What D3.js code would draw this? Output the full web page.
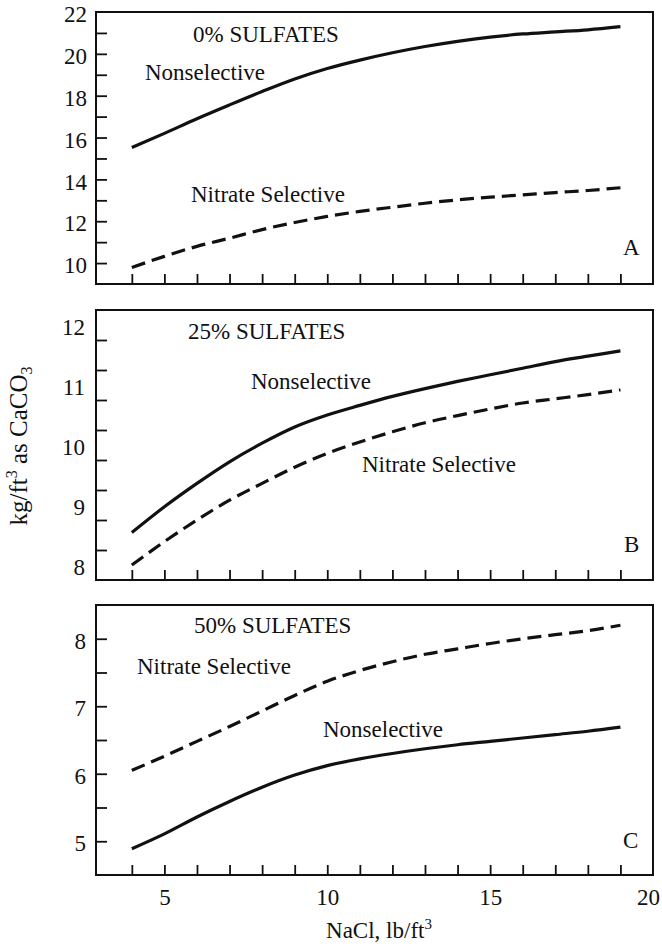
<!DOCTYPE html>
<html>
<head>
<meta charset="utf-8">
<script src="https://cdn.jsdelivr.net/npm/d3@7"></script>
<style>
  html, body { margin: 0; padding: 0; background: #fff; }
  svg text { font-family: "Liberation Serif", "DejaVu Serif", serif; fill: #111; }
</style>
</head>
<body>
<svg id="chart" width="662" height="946"></svg>
<script>
// ---- data ----
const naclValues = [4, 5, 6, 7, 8, 9, 10, 11, 12, 13, 14, 15, 16, 17, 18, 19];

const nonselA = [15.52, 16.2, 16.9, 17.56, 18.2, 18.8, 19.3, 19.7, 20.05, 20.35, 20.6, 20.8, 20.95, 21.05, 21.15, 21.3];
const nitrateA = [9.79, 10.32, 10.8, 11.19, 11.6, 11.94, 12.23, 12.47, 12.67, 12.86, 13.02, 13.15, 13.26, 13.37, 13.47, 13.6];

const nonselB = [8.54, 8.97, 9.36, 9.72, 10.03, 10.3, 10.5, 10.66, 10.81, 10.94, 11.06, 11.17, 11.28, 11.39, 11.48, 11.57];
const nitrateB = [8.0, 8.39, 8.75, 9.08, 9.36, 9.63, 9.86, 10.05, 10.22, 10.37, 10.49, 10.6, 10.7, 10.77, 10.84, 10.92];

const nonselC = [4.89, 5.11, 5.36, 5.59, 5.8, 5.98, 6.12, 6.22, 6.3, 6.37, 6.43, 6.48, 6.53, 6.58, 6.63, 6.69];
const nitrateC = [6.05, 6.26, 6.48, 6.7, 6.93, 7.16, 7.37, 7.53, 7.66, 7.77, 7.85, 7.93, 8.0, 8.06, 8.12, 8.2];

const xTickLabels = [5, 10, 15, 20];
const yLabelsA = [10, 12, 14, 16, 18, 20, 22];
const yTicksA = [10, 11, 12, 13, 14, 15, 16, 17, 18, 19, 20, 21];
const yLabelsB = [8, 9, 10, 11, 12];
const yTicksB = [8.25, 8.75, 9.25, 9.75, 10.25, 10.75, 11.25, 11.75];
const yLabelsC = [5, 6, 7, 8];
const yTicksC = [5, 5.5, 6, 6.5, 7, 7.5, 8];

const panelTitles = ["0% SULFATES", "25% SULFATES", "50% SULFATES"];
const panelLetters = ["A", "B", "C"];
const seriesNames = ["Nonselective", "Nitrate Selective"];

// ---- layout ----
const svg = d3.select("#chart");
const left = 96, right = 653;
const FS = 23;
const x = d3.scaleLinear().domain([2.9, 20]).range([left, right]);

const panels = [
  { top: 12, bottom: 284, domain: [9, 22], non: nonselA, nit: nitrateA,
    labels: yLabelsA, ticks: yTicksA, labelRight: 87, title: panelTitles[0], letter: panelLetters[0],
    titlePos: [193, 42], nonPos: [145, 80], nitPos: [191, 202], letterPos: [623, 255] },
  { top: 310, bottom: 580, domain: [7.75, 12.25], non: nonselB, nit: nitrateB,
    labels: yLabelsB, ticks: yTicksB, labelRight: 85, title: panelTitles[1], letter: panelLetters[1],
    titlePos: [188, 339], nonPos: [251, 389], nitPos: [362, 472], letterPos: [624, 552] },
  { top: 605, bottom: 875, domain: [4.5, 8.5], non: nonselC, nit: nitrateC,
    labels: yLabelsC, ticks: yTicksC, labelRight: 86, title: panelTitles[2], letter: panelLetters[2],
    titlePos: [194, 633], nonPos: [323, 737], nitPos: [137, 674], letterPos: [623, 848] }
];

panels.forEach((p) => {
  const y = d3.scaleLinear().domain(p.domain).range([p.bottom, p.top]);
  const g = svg.append("g");

  // frame
  g.append("rect")
    .attr("x", left).attr("y", p.top)
    .attr("width", right - left).attr("height", p.bottom - p.top)
    .attr("fill", "none").attr("stroke", "#111").attr("stroke-width", 2);

  // bottom inward ticks
  const xAxis = d3.axisTop(x).tickValues(naclValues).tickSize(10).tickFormat("");
  g.append("g").attr("transform", `translate(0,${p.bottom})`).call(xAxis)
    .call(s => s.select(".domain").remove())
    .selectAll("line").attr("stroke", "#111").attr("stroke-width", 1.8);

  // left inward ticks
  const yTickAxis = d3.axisRight(y).tickValues(p.ticks).tickSize(11).tickFormat("");
  g.append("g").attr("transform", `translate(${left},0)`).call(yTickAxis)
    .call(s => s.select(".domain").remove())
    .selectAll("line").attr("stroke", "#111").attr("stroke-width", 1.8);

  // left labels
  const yLabelAxis = d3.axisLeft(y).tickValues(p.labels).tickSize(0)
    .tickPadding(left - p.labelRight).tickFormat(d3.format("d"));
  const la = g.append("g").attr("transform", `translate(${left},0)`).call(yLabelAxis);
  la.select(".domain").remove();
  la.selectAll("text").attr("font-size", FS).attr("dy", "0.42em")
    .attr("font-family", "Liberation Serif").attr("fill", "#111");

  // lines
  const line = d3.line().x((d, j) => x(naclValues[j])).y(d => y(d)).curve(d3.curveMonotoneX);
  g.append("path").datum(p.non).attr("d", line)
    .attr("fill", "none").attr("stroke", "#111").attr("stroke-width", 3.2);
  g.append("path").datum(p.nit).attr("d", line)
    .attr("fill", "none").attr("stroke", "#111").attr("stroke-width", 3.2)
    .attr("stroke-dasharray", "14,7");

  // annotations
  const txt = (pos, s) => g.append("text").attr("x", pos[0]).attr("y", pos[1])
    .attr("font-size", FS).text(s);
  txt(p.titlePos, p.title);
  txt(p.nonPos, seriesNames[0]);
  txt(p.nitPos, seriesNames[1]);
  txt(p.letterPos, p.letter);
});

// x tick labels under last panel
const xLab = d3.axisBottom(x).tickValues(xTickLabels).tickSize(0).tickPadding(0);
const xl = svg.append("g").attr("transform", `translate(0,${panels[2].bottom})`).call(xLab);
xl.select(".domain").remove();
xl.selectAll("text").attr("font-size", FS).attr("font-family", "Liberation Serif")
  .attr("fill", "#111").attr("dy", null).attr("y", 30)
  .attr("dx", d => d === 20 ? -5 : 0);

// x axis title
const xt = svg.append("text").attr("x", 379).attr("y", 938).attr("text-anchor", "middle").attr("font-size", FS);
xt.append("tspan").text("NaCl, lb/ft");
xt.append("tspan").attr("font-size", 15).attr("dy", "-9").text("3");

// y axis title
const yt = svg.append("text").attr("transform", "translate(27,446) rotate(-90)")
  .attr("text-anchor", "middle").attr("font-size", 25);
yt.append("tspan").text("kg/ft");
yt.append("tspan").attr("font-size", 16).attr("dy", "-10").text("3");
yt.append("tspan").attr("dy", "10").text(" as CaCO");
yt.append("tspan").attr("font-size", 16).attr("dy", "5").text("3");
</script>
</body>
</html>
